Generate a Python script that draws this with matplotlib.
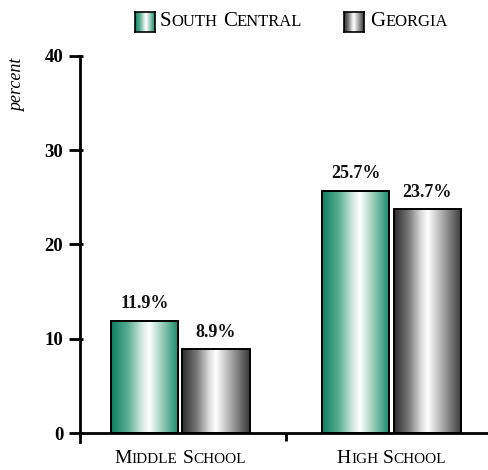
import numpy as np
import matplotlib
matplotlib.use("Agg")
import matplotlib.pyplot as plt
import matplotlib.transforms as mtransforms
from matplotlib.colors import LinearSegmentedColormap
from matplotlib.offsetbox import TextArea, HPacker, AnnotationBbox

# ---- data ----
categories = ["Middle School", "High School"]
series_names = ["South Central", "Georgia"]
south_central = [11.9, 25.7]
georgia = [8.9, 23.7]
y_ticks = [0, 10, 20, 30, 40]

SERIF = ["Liberation Serif", "DejaVu Serif"]
plt.rcParams["font.family"] = SERIF

green_cmap = LinearSegmentedColormap.from_list(
    "teal_tube",
    [(0.0, "#0d7f5f"), (0.25, "#5aae92"), (0.45, "#cfe7de"), (0.56, "#ffffff"),
     (0.75, "#9ccdbb"), (1.0, "#13886a")])
grey_cmap = LinearSegmentedColormap.from_list(
    "grey_tube",
    [(0.0, "#2c2c2c"), (0.22, "#7a7a7a"), (0.4, "#dcdcdc"), (0.5, "#ffffff"),
     (0.72, "#a8a8a8"), (1.0, "#383838")])
cmaps = [green_cmap, grey_cmap]
grad = np.linspace(0, 1, 256).reshape(1, -1)

fig = plt.figure(figsize=(4.89, 4.70), dpi=100)
W, H = 489, 470
ax_left, ax_right = 80 / W, 1.0
ax_bottom, ax_top = (H - 442) / H, (H - 55.7) / H
ax = fig.add_axes([ax_left, ax_bottom, ax_right - ax_left, ax_top - ax_bottom])

xpos = np.arange(len(categories))
bar_w = 0.317
offsets = [-0.168, 0.170]
values = [south_central, georgia]

for s, (vals, off) in enumerate(zip(values, offsets)):
    for i, v in enumerate(vals):
        x0 = xpos[i] + off - bar_w / 2
        ax.imshow(grad, cmap=cmaps[s], aspect="auto",
                  extent=[x0, x0 + bar_w, 0, v], zorder=2, interpolation="bilinear")
    ax.bar(xpos + off, vals, width=bar_w, facecolor="none",
           edgecolor="black", linewidth=1.4, zorder=3)
    for i, v in enumerate(vals):
        ax.annotate(f"{v}%", (xpos[i] + off, v), xytext=(0, 6),
                    textcoords="offset points", ha="center", va="bottom",
                    fontsize=13, fontweight="bold", color="#111111")

ax.set_xlim(-0.473, 1.461)
ax.set_ylim(-0.95, 40)

# axes styling
for side in ("top", "right", "bottom"):
    ax.spines[side].set_visible(False)
ax.spines["left"].set_linewidth(2)
ax.axhline(0, color="black", linewidth=2, zorder=4, clip_on=False)
ax.plot([0.5, 0.5], [0, -0.85], color="black", linewidth=2, zorder=4,
        solid_capstyle="butt")
ax.set_xticks([])
ax.set_yticks(y_ticks)
ax.set_yticklabels([str(t) for t in y_ticks], fontsize=13.5, fontweight="bold")
ax.tick_params(axis="y", length=0, pad=12)

# y tick marks: long outside, short inside the spine
tick_tf = mtransforms.blended_transform_factory(fig.transFigure, ax.transData)
for t in y_ticks:
    ax.plot([69 / W, 83 / W], [t, t], color="black", linewidth=2,
            transform=tick_tf, clip_on=False, zorder=5, solid_capstyle="butt")

fig.text(18 / W, 1 - 85 / H, "percent", rotation=90, ha="center", va="center",
         fontsize=13, style="italic")


def small_caps(text, big=11.5, small=9, weight="normal"):
    parts = []
    for word_i, word in enumerate(text.split(" ")):
        if word_i:
            parts.append(TextArea(" ", textprops=dict(fontsize=big, family=SERIF)))
        parts.append(TextArea(word[0].upper(),
                              textprops=dict(fontsize=big, family=SERIF, fontweight=weight)))
        parts.append(TextArea(word[1:].upper(),
                              textprops=dict(fontsize=small, family=SERIF, fontweight=weight)))
    return HPacker(children=parts, align="baseline", pad=0, sep=0)


# category labels
for i, cat in enumerate(categories):
    ab = AnnotationBbox(small_caps(cat, big=14, small=11), (xpos[i], 0), xybox=(0, -18.5),
                        xycoords="data", boxcoords="offset points",
                        frameon=False, box_alignment=(0.5, 0.5),
                        annotation_clip=False)
    ax.add_artist(ab)

# legend
legend_items = [(135, 160, series_names[0]), (344, 370, series_names[1])]
for s, (bx, tx, name) in enumerate(legend_items):
    sw = fig.add_axes([bx / W, 1 - 32 / H, 20 / W, 20 / H])
    sw.imshow(grad, cmap=cmaps[s], aspect="auto", extent=[0, 1, 0, 1],
              interpolation="bilinear")
    sw.set_xticks([])
    sw.set_yticks([])
    for sp in sw.spines.values():
        sp.set_linewidth(1.2)
    ab = AnnotationBbox(small_caps(name, big=15, small=12), (tx / W, 1 - 22 / H),
                        xycoords="figure fraction", frameon=False,
                        box_alignment=(0.0, 0.5), annotation_clip=False)
    fig.add_artist(ab)

fig.savefig("out.png", dpi=100)
